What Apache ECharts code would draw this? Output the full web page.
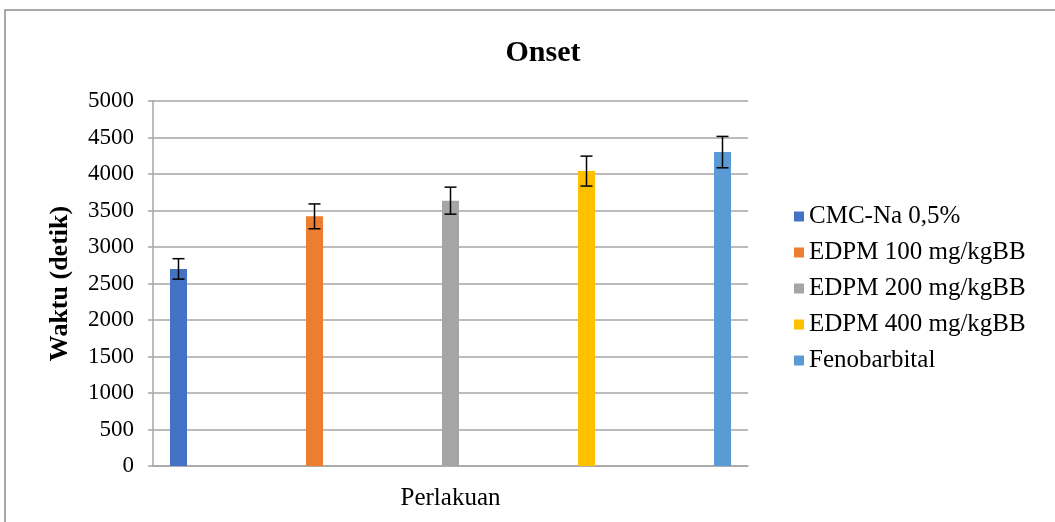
<!DOCTYPE html>
<html>
<head>
<meta charset="utf-8">
<script src="https://cdn.jsdelivr.net/npm/echarts@6/dist/echarts.min.js"></script>
<style>
  html, body { margin: 0; padding: 0; background: #fff; }
  #chart { width: 1055px; height: 522px; }
</style>
</head>
<body>
<div id="chart"></div>
<script>
// data
var categories = ['Perlakuan'];
var seriesNames = ['CMC-Na 0,5%', 'EDPM 100 mg/kgBB', 'EDPM 200 mg/kgBB', 'EDPM 400 mg/kgBB', 'Fenobarbital'];
var means = [2700, 3420, 3635, 4040, 4300];
var errors = [140, 170, 185, 205, 215];
var colors = ['#4472C4', '#ED7D31', '#A5A5A5', '#FFC000', '#5B9BD5'];

var font = '"Liberation Serif", "Times New Roman", serif';
var barWidth = 17;
var barGap = '700%';

var series = [];
seriesNames.forEach(function (name, i) {
  series.push({
    name: name,
    type: 'bar',
    animation: false,
    barWidth: barWidth,
    barGap: barGap,
    data: [means[i]],
    itemStyle: { color: colors[i] }
  });
});

// error bars drawn on top of each bar
series.push({
  type: 'custom',
  animation: false,
  silent: true,
  z: 10,
  data: means.map(function (m, i) { return [0, m, errors[i], i]; }),
  renderItem: function (params, api) {
    var idx = api.value(3);
    var layout = api.barLayout({
      barWidth: barWidth,
      barGap: barGap,
      count: seriesNames.length
    });
    var mean = api.value(1);
    var err = api.value(2);
    var top = api.coord([api.value(0), mean + err]);
    var bottom = api.coord([api.value(0), mean - err]);
    var x = top[0] + layout[idx].offsetCenter;
    var half = 6;
    var style = { stroke: '#000', lineWidth: 1.5 };
    return {
      type: 'group',
      children: [
        { type: 'line', shape: { x1: x, y1: top[1], x2: x, y2: bottom[1] }, style: style },
        { type: 'line', shape: { x1: x - half, y1: top[1], x2: x + half, y2: top[1] }, style: style },
        { type: 'line', shape: { x1: x - half, y1: bottom[1], x2: x + half, y2: bottom[1] }, style: style }
      ]
    };
  }
});

var option = {
  backgroundColor: '#fff',
  textStyle: { fontFamily: font },
  graphic: [{
    type: 'rect',
    shape: { x: 5, y: 10, width: 1100, height: 600 },
    style: { fill: 'none', stroke: '#8c8c8c', lineWidth: 1.5 },
    silent: true
  }],
  title: {
    text: 'Onset',
    left: 538,
    top: 33,
    textAlign: 'center',
    textStyle: { fontFamily: font, fontSize: 30, fontWeight: 'bold', color: '#000' }
  },
  legend: {
    orient: 'vertical',
    left: 789,
    top: 199,
    itemWidth: 10,
    itemHeight: 10,
    itemGap: 11,
    icon: 'rect',
    data: seriesNames,
    textStyle: { fontFamily: font, fontSize: 25, color: '#000' }
  },
  grid: {
    left: 153,
    right: 307,
    top: 101,
    bottom: 56,
    containLabel: false
  },
  xAxis: {
    type: 'category',
    data: categories,
    axisLine: { show: true, lineStyle: { color: '#a6a6a6', width: 1.5 } },
    axisTick: { show: false },
    axisLabel: { margin: 20, fontFamily: font, fontSize: 25, color: '#000' },
    splitLine: { show: false }
  },
  yAxis: {
    type: 'value',
    min: 0,
    max: 5000,
    interval: 500,
    name: 'Waktu (detik)',
    nameLocation: 'middle',
    nameGap: 80,
    nameRotate: 90,
    nameTextStyle: { fontFamily: font, fontSize: 26, fontWeight: 'bold', color: '#000' },
    axisLine: { show: true, lineStyle: { color: '#a6a6a6', width: 1.5 } },
    axisTick: { show: true, length: 5, lineStyle: { color: '#a6a6a6', width: 1.5 } },
    axisLabel: {
      margin: 19,
      fontFamily: font,
      fontSize: 23,
      color: '#000',
      formatter: function (v) { return String(v); }
    },
    splitLine: { show: true, lineStyle: { color: '#a6a6a6', width: 1.5 } }
  },
  series: series
};

var chart = echarts.init(document.getElementById('chart'));
chart.setOption(option);
</script>
</body>
</html>
